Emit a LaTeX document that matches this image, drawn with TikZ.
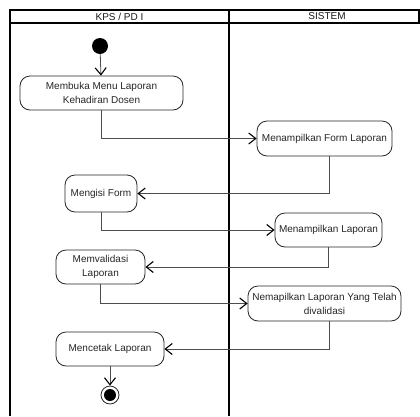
\documentclass[tikz,border=0pt]{standalone}
\usepackage{fontspec}
\setmainfont{Liberation Sans}
\usetikzlibrary{arrows.meta,positioning}

\begin{document}
\begin{tikzpicture}[x=1pt,y=-1pt,
        lane/.style={line width=2pt},
        act/.style={draw=black!85, line width=0.8pt, rounded corners=10pt, align=center,
            font=\fontsize{10}{14}\selectfont, text=black!85, inner sep=0pt},
        head/.style={font=\fontsize{10}{12}\selectfont, text=black!90},
        flow/.style={draw=black!70, line width=0.8pt,
            -{Straight Barb[length=7pt,width=11pt,line width=1.1pt,color=black]}}]
    \useasboundingbox (0,0) rectangle (420,416);
    % swimlanes
    \draw[lane] (10,416) -- (10,10) -- (419,10) -- (419,23) -- (10,23);
    \draw[lane] (229,10) -- (229,416);
    \node[head] (kps) at (119.5,16.5) {KPS / PD I};
    \node[head] (sistem) at (327,16.5) {SISTEM};
    % start and end
    \node[circle, fill=black, minimum size=16pt, inner sep=0pt] (mulai) at (100,46) {};
    \node[circle, draw=black!85, line width=0.8pt, minimum size=18pt, inner sep=0pt] (selesai) at (110,395) {};
    \node[circle, fill=black, minimum size=12pt, inner sep=0pt] (selesaiin) at (selesai.center) {};
    % activities
    \node[act, minimum width=163pt, minimum height=34pt] (buka) at (101.5,93) {Membuka Menu Laporan\\Kehadiran Dosen};
    \node[act, minimum width=135pt, minimum height=35pt] (tampilform) at (324.5,138.5) {Menampilkan Form Laporan};
    \node[act, minimum width=72pt, minimum height=37pt] (isi) at (101,193.5) {Mengisi Form};
    \node[act, minimum width=107pt, minimum height=34pt] (tampillap) at (328.5,230) {Menampilkan Laporan};
    \node[act, minimum width=89pt, minimum height=34pt] (validasi) at (100.5,267) {Memvalidasi\\Laporan};
    \node[act, minimum width=153pt, minimum height=35pt] (tampilvalid) at (324.5,303.5) {Nemapilkan Laporan Yang Telah\\divalidasi};
    \node[act, minimum width=108pt, minimum height=34pt] (cetak) at (110,349) {Mencetak Laporan};
    % flows
    \draw[flow] (mulai) -- (buka);
    \draw[flow] (buka.south) |- (tampilform.west);
    \draw[flow] ([xshift=4.5pt]tampilform.south) |- (isi.east);
    \draw[flow] (isi.south) |- (tampillap.west);
    \draw[flow] (tampillap.south) |- (validasi.east);
    \draw[flow] (validasi.south) |- (tampilvalid.west);
    \draw[flow] ([xshift=4.5pt]tampilvalid.south) |- (cetak.east);
    \draw[flow] (cetak.south) -- (selesai.north);
\end{tikzpicture}
\end{document}
